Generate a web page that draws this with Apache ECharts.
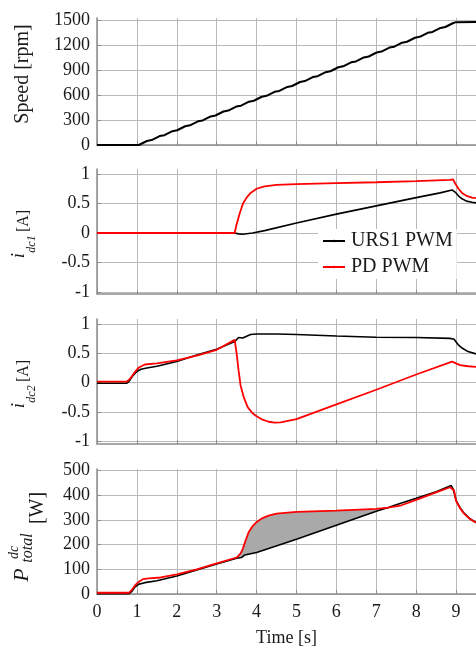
<!DOCTYPE html>
<html>
<head>
    <meta charset="UTF-8">
    <script src="https://cdn.jsdelivr.net/npm/echarts@6/dist/echarts.min.js"></script>
    <style>
        html, body { margin: 0; padding: 0; background: #ffffff; }
        #main { width: 476px; height: 649px; }
    </style>
</head>
<body>
<div id="main"></div>
<script type="text/javascript">
    // x ticks (time, s)
    var timeTicks = [0, 1, 2, 3, 4, 5, 6, 7, 8, 9];
    var speedTicks = [0, 300, 600, 900, 1200, 1500];
    var currentTicks = [-1, -0.5, 0, 0.5, 1];
    var powerTicks = [0, 100, 200, 300, 400, 500];

    // speed [rpm]
    var speed = [
        [0, 0], [1.05, 0], [1.25, 48], [1.37, 59], [1.57, 107], [1.69, 118], [1.89, 166], [2.01, 177],
        [2.21, 225], [2.33, 236], [2.53, 284], [2.65, 295], [2.85, 343], [2.97, 354], [3.17, 402],
        [3.29, 413], [3.49, 461], [3.61, 472], [3.81, 520], [3.93, 531], [4.13, 579], [4.25, 590],
        [4.45, 638], [4.57, 649], [4.77, 697], [4.89, 708], [5.09, 756], [5.21, 767], [5.41, 815],
        [5.53, 826], [5.73, 874], [5.85, 885], [6.05, 933], [6.17, 944], [6.37, 992], [6.49, 1003],
        [6.69, 1051], [6.81, 1062], [7.01, 1110], [7.13, 1121], [7.33, 1169], [7.45, 1180],
        [7.65, 1228], [7.77, 1239], [7.97, 1287], [8.09, 1298], [8.29, 1346], [8.41, 1357],
        [8.61, 1405], [8.73, 1416], [8.93, 1464], [9.0, 1474], [9.5, 1476]
    ];

    // i_dc1 [A]
    var urs1Idc1 = [
        [0, 0], [3.45, 0], [3.55, -0.015], [3.65, -0.02], [3.75, -0.012], [3.9, 0], [4.2, 0.04],
        [5, 0.17], [6, 0.32], [7, 0.46], [8, 0.6], [8.6, 0.68], [8.9, 0.73], [9.0, 0.68],
        [9.06, 0.63], [9.15, 0.58], [9.26, 0.54], [9.4, 0.52], [9.5, 0.51]
    ];
    var pdIdc1 = [
        [0, 0], [3.45, 0], [3.5, 0.15], [3.58, 0.34], [3.66, 0.5], [3.75, 0.6], [3.85, 0.68],
        [4.0, 0.75], [4.2, 0.79], [4.5, 0.815], [5, 0.83], [6, 0.845], [7, 0.86], [8, 0.88],
        [8.85, 0.9], [8.92, 0.91], [8.98, 0.84], [9.06, 0.75], [9.15, 0.68], [9.26, 0.63],
        [9.4, 0.6], [9.5, 0.59]
    ];

    // i_dc2 [A]
    var urs1Idc2 = [
        [0, -0.01], [0.74, -0.01], [0.8, 0.02], [0.9, 0.12], [1.0, 0.19], [1.1, 0.23], [1.25, 0.25],
        [1.5, 0.28], [2.0, 0.36], [2.5, 0.47], [3.0, 0.57], [3.45, 0.7], [3.5, 0.73], [3.55, 0.77],
        [3.6, 0.74], [3.65, 0.76], [3.7, 0.73], [3.75, 0.79], [3.85, 0.82], [4.0, 0.83], [4.5, 0.83],
        [5.0, 0.82], [6.0, 0.795], [7.0, 0.775], [8.0, 0.77], [8.85, 0.755], [8.95, 0.74],
        [9.05, 0.65], [9.15, 0.59], [9.3, 0.53], [9.5, 0.49]
    ];
    var pdIdc2 = [
        [0, 0.02], [0.75, 0.02], [0.82, 0.06], [0.95, 0.18], [1.05, 0.26], [1.2, 0.31], [1.5, 0.33],
        [2.0, 0.38], [2.5, 0.46], [3.0, 0.56], [3.45, 0.73], [3.5, 0.5], [3.55, 0.2], [3.6, -0.05],
        [3.68, -0.25], [3.78, -0.42], [3.9, -0.52], [4.0, -0.57], [4.15, -0.63], [4.3, -0.665],
        [4.45, -0.68], [4.6, -0.675], [5.0, -0.62], [6.0, -0.37], [7.0, -0.12], [8.0, 0.14],
        [8.9, 0.36], [9.0, 0.33], [9.1, 0.3], [9.3, 0.28], [9.5, 0.27]
    ];

    // P_total^dc [W]
    var urs1P = [
        [0, 0], [0.8, 0], [0.88, 12], [0.95, 28], [1.05, 40], [1.2, 46], [1.5, 54], [2.0, 73],
        [2.5, 97], [3.0, 122], [3.5, 145], [3.55, 152], [3.62, 148], [3.7, 158], [3.75, 157],
        [4.0, 168], [5.0, 222], [6.0, 279], [7.0, 336], [7.3, 351], [7.5, 362], [8.0, 388],
        [8.5, 415], [8.88, 440], [8.93, 425], [9.0, 380], [9.1, 350], [9.2, 328], [9.35, 305], [9.5, 290]
    ];
    var pdP = [
        [0, 5], [0.8, 5], [0.88, 18], [0.97, 38], [1.05, 50], [1.15, 60], [1.3, 63], [1.6, 67],
        [2.0, 80], [2.5, 100], [3.0, 124], [3.5, 148], [3.6, 165], [3.66, 185], [3.72, 215],
        [3.8, 250], [3.9, 275], [4.0, 292], [4.15, 308], [4.3, 318], [4.5, 326], [5.0, 333],
        [6.0, 338], [7.0, 345], [7.3, 350], [7.6, 358], [8.0, 382], [8.5, 412], [8.85, 433],
        [8.9, 436], [8.95, 420], [9.0, 378], [9.1, 348], [9.2, 326], [9.35, 304], [9.5, 289]
    ];
    // shaded region between the two power curves
    var fillFrom = 3.55;
    var fillTo = 7.3;

    var serif = "'Liberation Serif', 'Times New Roman', serif";
    var axisGray = '#8c8c8c';
    var gridGray = '#b8b8b8';

    var myChart = echarts.init(document.getElementById('main'));

    function plain(v) {
        return String(v);
    }

    function xAxisFor(idx, withLabels) {
        return {
            type: 'value',
            gridIndex: idx,
            min: 0,
            max: 9.5,
            axisLine: {show: true, onZero: false, lineStyle: {color: axisGray, width: 1.5}},
            axisTick: {show: true, inside: true, length: 4, customValues: timeTicks, lineStyle: {color: axisGray}},
            axisLabel: {
                show: withLabels, customValues: timeTicks, margin: 9, formatter: plain,
                fontFamily: serif, fontSize: 18, color: '#1a1a1a'
            },
            splitLine: {show: true, lineStyle: {color: gridGray, width: 1}},
            name: withLabels ? 'Time [s]' : '',
            nameLocation: 'middle',
            nameGap: 35,
            nameTextStyle: {fontFamily: serif, fontSize: 18, color: '#1a1a1a'}
        };
    }

    function yAxisFor(idx, min, max, ticks) {
        return {
            type: 'value',
            gridIndex: idx,
            min: min,
            max: max,
            axisLine: {show: true, lineStyle: {color: axisGray, width: 1.5}},
            axisTick: {show: true, inside: true, length: 4, customValues: ticks, lineStyle: {color: axisGray}},
            axisLabel: {
                customValues: ticks, margin: 7, formatter: plain,
                fontFamily: serif, fontSize: 18, color: '#1a1a1a'
            },
            splitLine: {show: true, lineStyle: {color: gridGray, width: 1}}
        };
    }

    function lineSeries(name, data, color, idx, width) {
        return {
            name: name,
            type: 'line',
            xAxisIndex: idx,
            yAxisIndex: idx,
            data: data,
            symbol: 'none',
            lineStyle: {color: color, width: width},
            itemStyle: {color: color},
            z: 3
        };
    }

    function rotText(text, x, y, size, italic) {
        return {
            type: 'text',
            x: x,
            y: y,
            rotation: Math.PI / 2,
            style: {
                text: text,
                fontFamily: serif,
                fontSize: size,
                fontStyle: italic ? 'italic' : 'normal',
                fill: '#1a1a1a',
                align: 'center',
                verticalAlign: 'middle'
            }
        };
    }

    var option = {
        animation: false,
        backgroundColor: '#ffffff',
        grid: [
            {left: 97, right: 0, top: 18, height: 127},
            {left: 97, right: 0, top: 169, height: 125},
            {left: 97, right: 0, top: 319, height: 125},
            {left: 97, right: 0, top: 469, height: 125}
        ],
        xAxis: [
            xAxisFor(0, false),
            xAxisFor(1, false),
            xAxisFor(2, false),
            xAxisFor(3, true)
        ],
        yAxis: [
            yAxisFor(0, 0, 1524, speedTicks),
            yAxisFor(1, -1.034, 1.085, currentTicks),
            yAxisFor(2, -1.044, 1.085, currentTicks),
            yAxisFor(3, 0, 507, powerTicks)
        ],
        legend: {
            data: ['URS1 PWM', 'PD PWM'],
            orient: 'vertical',
            left: 318,
            top: 229,
            itemWidth: 22,
            itemHeight: 3,
            itemGap: 6,
            padding: [2, 4, 2, 4],
            backgroundColor: '#ffffff',
            textStyle: {fontFamily: serif, fontSize: 20, color: '#1a1a1a', padding: [0, 0, 0, 1]}
        },
        graphic: [
            rotText('Speed [rpm]', 23, 74, 20, false),
            rotText('i', 19, 255.5, 19, true),
            rotText('dc1', 32, 244, 12, true),
            rotText('[A]', 23.5, 221, 16, false),
            rotText('i', 19, 405.5, 19, true),
            rotText('dc2', 32, 394, 12, true),
            rotText('[A]', 23.5, 371, 16, false),
            rotText('P', 22.5, 575, 22, true),
            rotText('dc', 14, 552.5, 14, true),
            rotText('total', 27.5, 548, 16, true),
            rotText('[W]', 38, 508, 20, false)
        ],
        series: [
            lineSeries('Speed', speed, '#000000', 0, 2),
            lineSeries('URS1 PWM', urs1Idc1, '#000000', 1, 1.6),
            lineSeries('PD PWM', pdIdc1, '#ff0000', 1, 1.8),
            lineSeries('URS1 PWM', urs1Idc2, '#000000', 2, 1.6),
            lineSeries('PD PWM', pdIdc2, '#ff0000', 2, 1.8),
            {
                type: 'custom',
                xAxisIndex: 3,
                yAxisIndex: 3,
                data: [[fillFrom, 0]],
                z: 2,
                silent: true,
                renderItem: function (params, api) {
                    var pts = [];
                    pdP.forEach(function (p) {
                        if (p[0] >= fillFrom && p[0] <= fillTo) pts.push(api.coord(p));
                    });
                    urs1P.slice().reverse().forEach(function (p) {
                        if (p[0] >= fillFrom && p[0] <= fillTo) pts.push(api.coord(p));
                    });
                    return {
                        type: 'polygon',
                        shape: {points: pts},
                        style: {fill: '#a9a9a9', stroke: null}
                    };
                }
            },
            lineSeries('URS1 PWM', urs1P, '#000000', 3, 1.6),
            lineSeries('PD PWM', pdP, '#ff0000', 3, 1.8)
        ]
    };

    myChart.setOption(option);
</script>
</body>
</html>
